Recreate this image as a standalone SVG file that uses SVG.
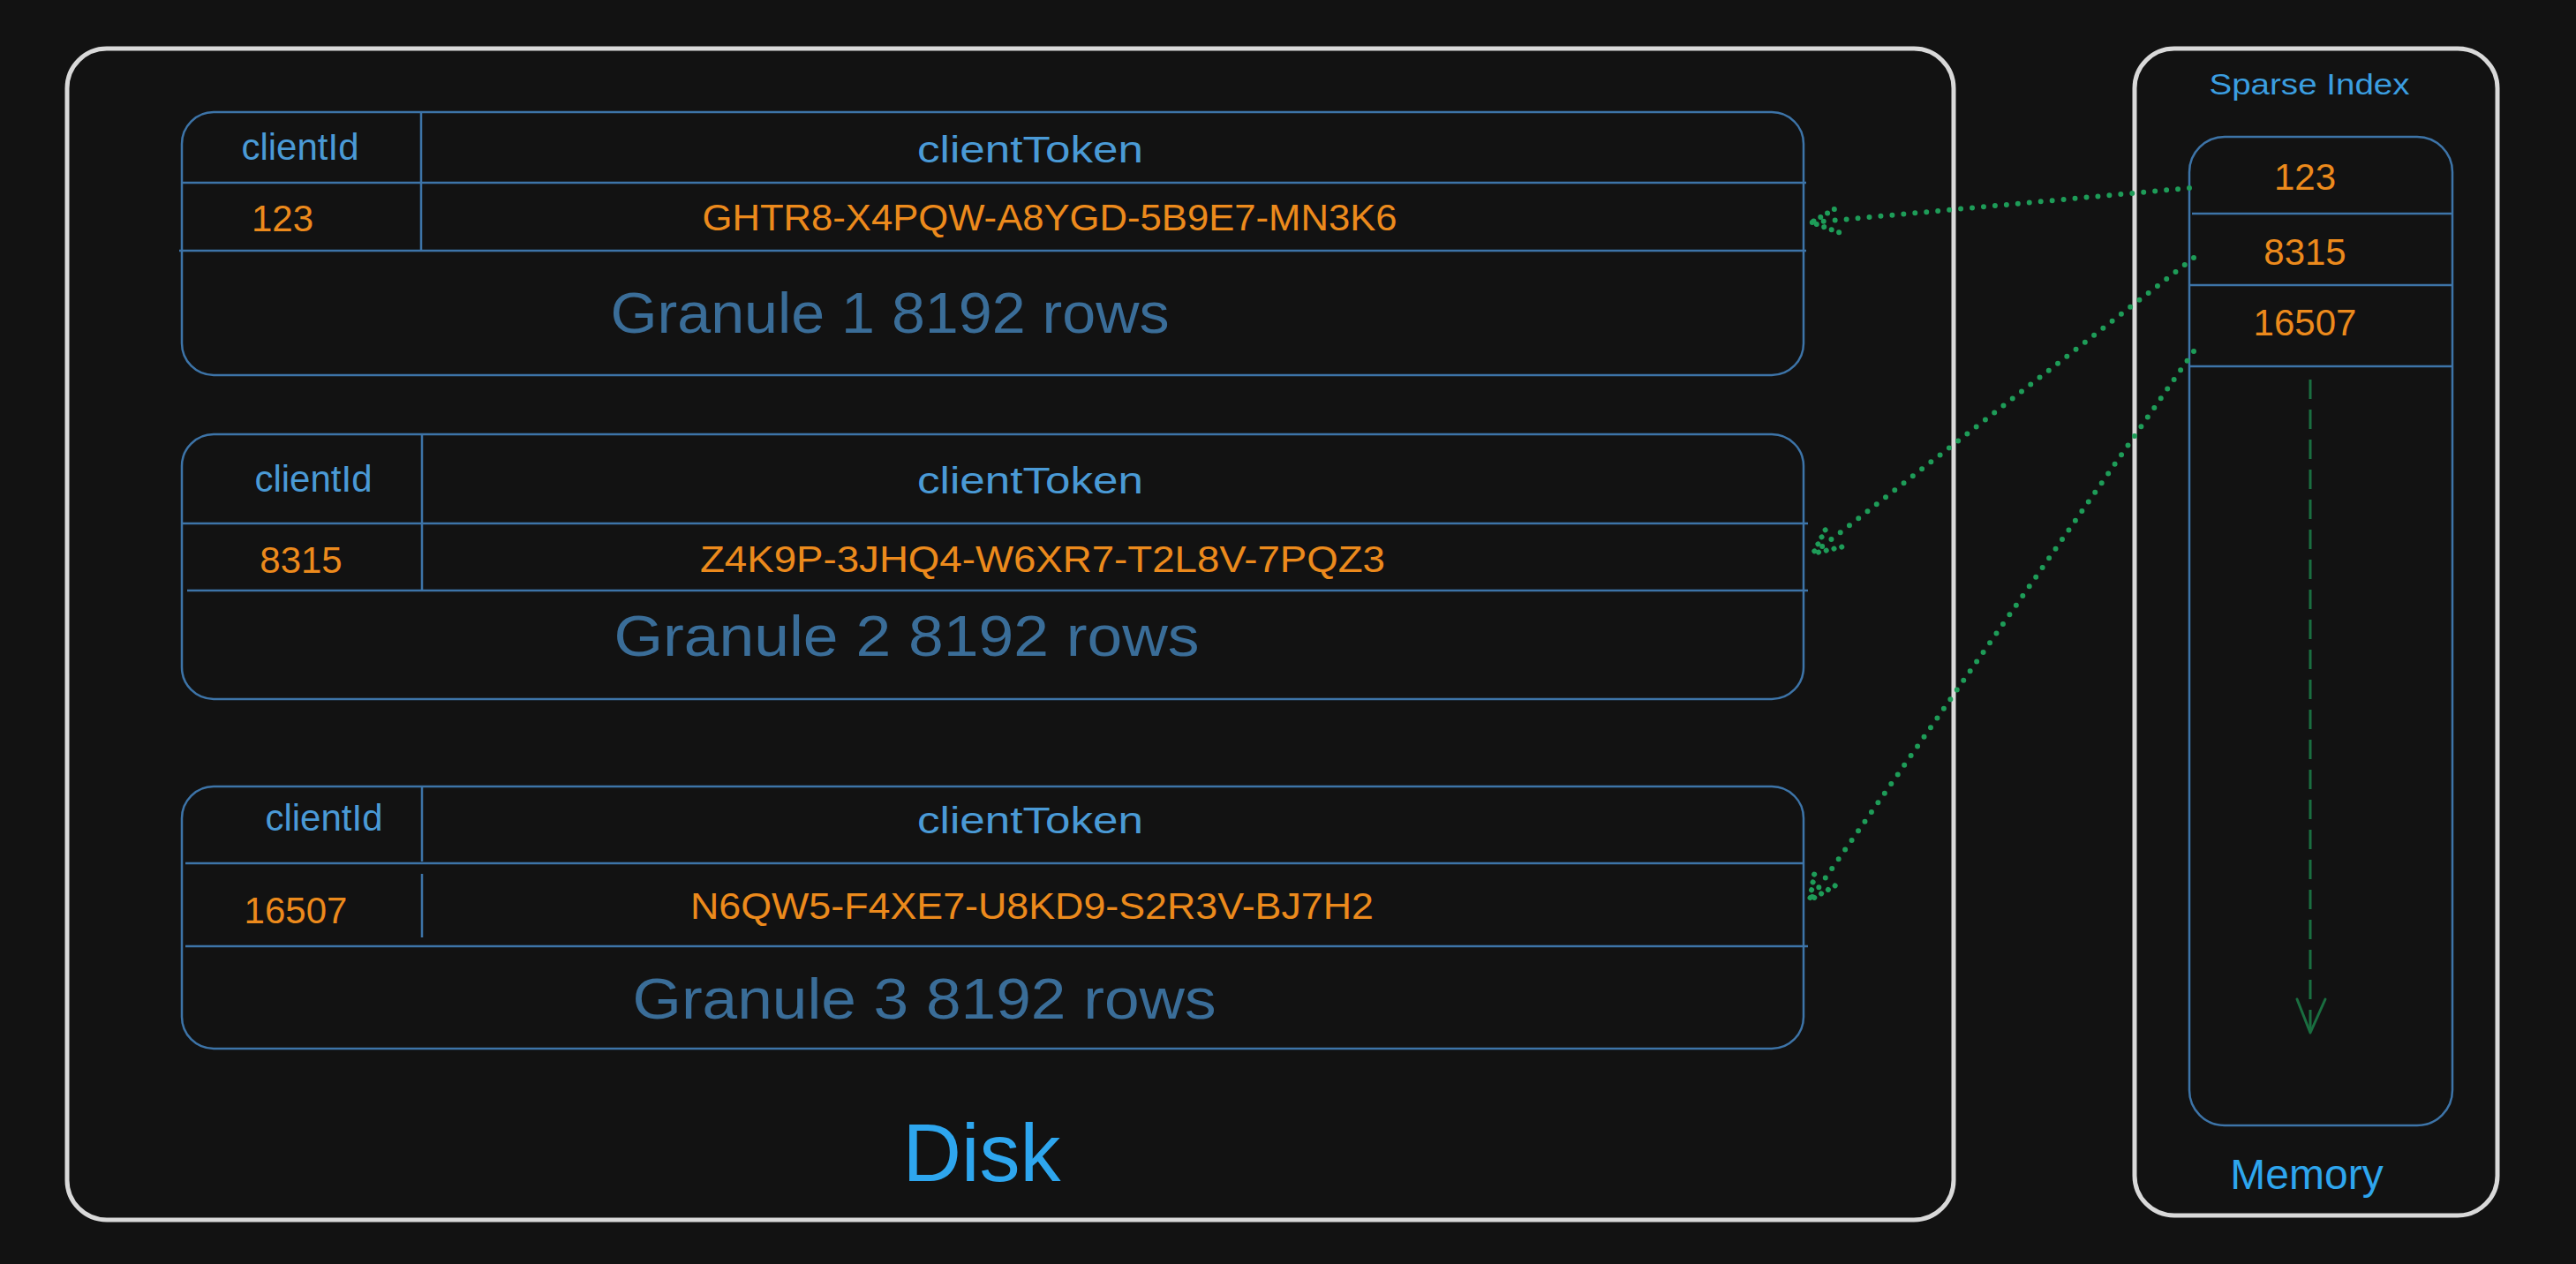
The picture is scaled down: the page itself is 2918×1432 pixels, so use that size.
<svg xmlns="http://www.w3.org/2000/svg" width="2918" height="1432" viewBox="0 0 2918 1432">
  <defs>
    <style>
      .outer { fill: none; stroke: #d9d9d9; stroke-width: 5; }
      .gbox { fill: none; stroke: #3d74a8; stroke-width: 2.5; }
      .gline { stroke: #3d74a8; stroke-width: 2.5; fill: none; }
      .hdr { font-family: "Liberation Sans", Arial, sans-serif; font-size: 42px; fill: #4a9ad6; text-anchor: middle; }
      .val { font-family: "Liberation Sans", Arial, sans-serif; font-size: 42px; fill: #ec8a1c; text-anchor: middle; }
      .glabel { font-family: "Liberation Sans", Arial, sans-serif; font-size: 64px; fill: #3a6d98; text-anchor: middle; }
      .big { font-family: "Liberation Sans", Arial, sans-serif; fill: #2ea6ee; text-anchor: middle; }
      .dot { fill: none; stroke: #1e9c58; stroke-width: 6; stroke-linecap: round; stroke-dasharray: 0 13; }
      .dash { fill: none; stroke: #1a6e40; stroke-width: 3; stroke-dasharray: 22 12; }
    </style>
    <marker id="dotHead" markerUnits="userSpaceOnUse" orient="auto" refX="0" refY="0" markerWidth="60" markerHeight="60" viewBox="-40 -30 50 60" overflow="visible">
      <path d="M -30 -14 L 0 0 L -30 14" fill="none" stroke="#1e9c58" stroke-width="6" stroke-linecap="round" stroke-dasharray="0 9"/>
    </marker>
  </defs>

  <rect width="2918" height="1432" fill="#121212"/>

  <g id="disk">
    <rect class="outer" x="76" y="55" width="2137" height="1327" rx="45"/>
    <text class="big" x="1112" y="1338" font-size="92">Disk</text>
  </g>

  <g id="granule-1">
    <rect class="gbox" x="206" y="127" width="1837" height="298" rx="36"/>
    <line class="gline" x1="206" y1="207" x2="2046" y2="207"/>
    <line class="gline" x1="203" y1="284" x2="2046" y2="284"/>
    <line class="gline" x1="477" y1="127" x2="477" y2="284"/>
    <text class="hdr" x="340" y="181">clientId</text>
    <text class="hdr" x="1167" y="184" textLength="256" lengthAdjust="spacingAndGlyphs">clientToken</text>
    <text class="val" x="320" y="262">123</text>
    <text class="val" x="1189" y="261" textLength="787" lengthAdjust="spacingAndGlyphs">GHTR8-X4PQW-A8YGD-5B9E7-MN3K6</text>
    <text class="glabel" x="1008" y="377" textLength="633" lengthAdjust="spacingAndGlyphs">Granule 1 8192 rows</text>
  </g>

  <g id="granule-2">
    <rect class="gbox" x="206" y="492" width="1837" height="300" rx="36"/>
    <line class="gline" x1="206" y1="593" x2="2048" y2="593"/>
    <line class="gline" x1="212" y1="669" x2="2048" y2="669"/>
    <line class="gline" x1="478" y1="492" x2="478" y2="669"/>
    <text class="hdr" x="355" y="557">clientId</text>
    <text class="hdr" x="1167" y="559" textLength="256" lengthAdjust="spacingAndGlyphs">clientToken</text>
    <text class="val" x="341" y="649">8315</text>
    <text class="val" x="1181" y="648" textLength="776" lengthAdjust="spacingAndGlyphs">Z4K9P-3JHQ4-W6XR7-T2L8V-7PQZ3</text>
    <text class="glabel" x="1027" y="743" textLength="663" lengthAdjust="spacingAndGlyphs">Granule 2 8192 rows</text>
  </g>

  <g id="granule-3">
    <rect class="gbox" x="206" y="891" width="1837" height="297" rx="36"/>
    <line class="gline" x1="210" y1="978" x2="2043" y2="978"/>
    <line class="gline" x1="210" y1="1072" x2="2048" y2="1072"/>
    <line class="gline" x1="478" y1="891" x2="478" y2="976"/>
    <line class="gline" x1="478" y1="990" x2="478" y2="1062"/>
    <text class="hdr" x="367" y="941">clientId</text>
    <text class="hdr" x="1167" y="944" textLength="256" lengthAdjust="spacingAndGlyphs">clientToken</text>
    <text class="val" x="335" y="1046">16507</text>
    <text class="val" x="1169" y="1041" textLength="774" lengthAdjust="spacingAndGlyphs">N6QW5-F4XE7-U8KD9-S2R3V-BJ7H2</text>
    <text class="glabel" x="1047" y="1154" textLength="661" lengthAdjust="spacingAndGlyphs">Granule 3 8192 rows</text>
  </g>

  <g id="memory">
    <rect class="outer" x="2418" y="55" width="411" height="1322" rx="45"/>
    <text x="2616" y="107" font-family="Liberation Sans, Arial, sans-serif" font-size="34" fill="#3b9ee0" text-anchor="middle" textLength="227" lengthAdjust="spacingAndGlyphs">Sparse Index</text>
    <text class="big" x="2613" y="1347" font-size="48">Memory</text>
  </g>

  <g id="sparse-index">
    <rect class="gbox" x="2480" y="155" width="298" height="1120" rx="40"/>
    <line class="gline" x1="2483" y1="242" x2="2778" y2="242"/>
    <line class="gline" x1="2480" y1="323" x2="2778" y2="323"/>
    <line class="gline" x1="2480" y1="415" x2="2778" y2="415"/>
    <text class="val" x="2611" y="215" font-size="44">123</text>
    <text class="val" x="2611" y="300" font-size="44">8315</text>
    <text class="val" x="2611" y="380" font-size="44">16507</text>
  </g>

  <g id="connectors">
    <path class="dot" d="M 2480 213 L 2052 252" marker-end="url(#dotHead)"/>
    <path class="dot" d="M 2485 292 L 2054 627" marker-end="url(#dotHead)"/>
    <path class="dot" d="M 2485 398 L 2050 1020" marker-end="url(#dotHead)"/>
    <path class="dash" d="M 2617 430 L 2617 1168"/>
    <path d="M 2602 1132 L 2617 1170 L 2634 1132" fill="none" stroke="#1a6e40" stroke-width="3" stroke-linecap="round" stroke-linejoin="round"/>
  </g>
</svg>
